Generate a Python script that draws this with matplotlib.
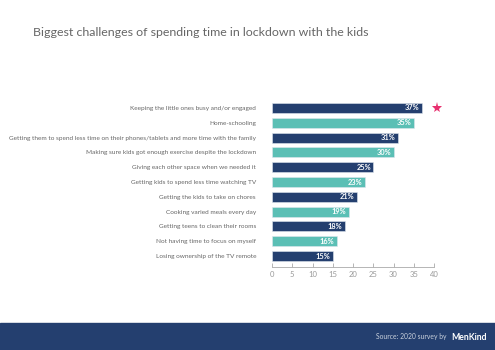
import matplotlib
matplotlib.use('Agg')
import matplotlib.pyplot as plt
from matplotlib.patches import Rectangle

# data
categories = [
    "Keeping the little ones busy and/or engaged",
    "Home-schooling",
    "Getting them to spend less time on their phones/tablets and more time with the family",
    "Making sure kids got enough exercise despite the lockdown",
    "Giving each other space when we needed it",
    "Getting kids to spend less time watching TV",
    "Getting the kids to take on chores",
    "Cooking varied meals every day",
    "Getting teens to clean their rooms",
    "Not having time to focus on myself",
    "Losing ownership of the TV remote",
]
values = [37, 35, 31, 30, 25, 23, 21, 19, 18, 16, 15]
xticks = [0, 5, 10, 15, 20, 25, 30, 35, 40]

navy = '#243f6f'
teal = '#5bbfb5'
colors = [navy if i % 2 == 0 else teal for i in range(len(values))]

plt.rcParams['font.family'] = ['Lato', 'DejaVu Sans']

fig = plt.figure(figsize=(4.95, 3.5), dpi=100)
ax = fig.add_axes([272/495, 1-267/350, 162/495, 167/350])

y = list(range(len(values)))
ax.barh(y, values, height=0.68, color=colors, edgecolor='#dfe6ee', linewidth=0.4)
for i, v in enumerate(values):
    ax.text(v - 0.6, i, f"{v}%", ha='right', va='center', color='white',
            fontsize=5.3, fontweight='bold')
ax.set_ylim(10.74, -0.54)
ax.set_xlim(0, 40)
ax.set_yticks(y)
ax.set_yticklabels(categories, fontsize=4.65, color='#666666')
ax.tick_params(axis='y', length=0, pad=11.5)
ax.set_xticks(xticks)
ax.set_xticklabels([str(t) for t in xticks])
ax.tick_params(axis='x', direction='in', length=3, width=0.6, color='#aaaaaa',
               labelsize=5.5, labelcolor='#999999', pad=3)
for s in ['top', 'right', 'left']:
    ax.spines[s].set_visible(False)
ax.spines['bottom'].set_color('#aaaaaa')
ax.spines['bottom'].set_linewidth(0.6)

# star next to the top bar
ax.plot([values[0] + 3.8], [0], marker='*', markersize=8, color='#e8306f',
        clip_on=False, markeredgewidth=0)

fig.text(33/495, 1-32/350, "Biggest challenges of spending time in lockdown with the kids",
         fontsize=8.95, color='#666666', va='center')

# footer band
fig.patches.append(Rectangle((0, 0), 1, 27/350, transform=fig.transFigure,
                             color=navy, zorder=0))
fig.text(447/495, 1-337/350, "Source: 2020 survey by", fontsize=4.9, color='#c8d0dc',
         ha='right', va='center')
fig.text(451/495, 1-337/350, "MenKind", fontsize=6.2, color='white',
         ha='left', va='center', fontweight='bold')

fig.savefig('out.png', dpi=100)
